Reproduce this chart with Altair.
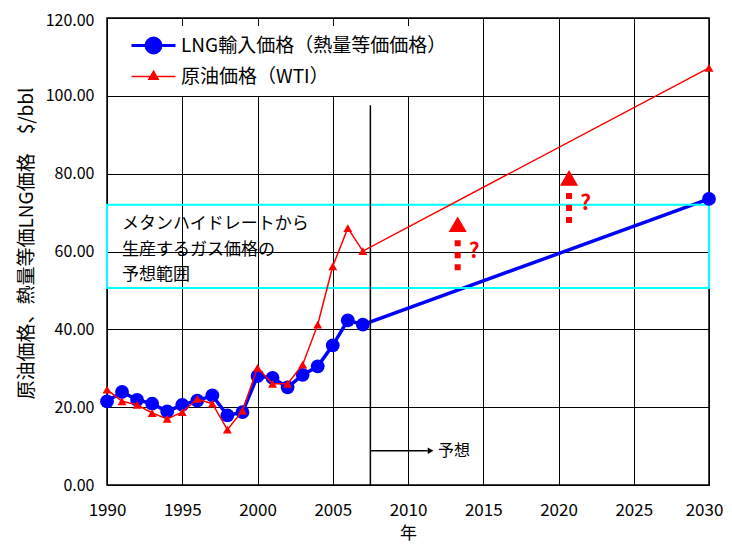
import altair as alt
import pandas as pd

# ---- data ----
years = [1990, 1991, 1992, 1993, 1994, 1995, 1996, 1997, 1998, 1999,
         2000, 2001, 2002, 2003, 2004, 2005, 2006, 2007, 2030]
lng = [21.5, 23.9, 21.9, 20.9, 18.9, 20.6, 21.7, 23.0, 17.9, 18.7,
       28.0, 27.5, 25.1, 28.3, 30.5, 35.9, 42.3, 41.2, 73.5]
wti = [24.5, 21.5, 20.6, 18.5, 17.0, 18.7, 22.1, 20.9, 14.2, 19.1,
       30.1, 26.0, 26.0, 30.9, 41.2, 56.2, 66.0, 60.1, 107.2]
series_names = ["LNG輸入価格（熱量等価価格）", "原油価格（WTI）"]
series_colors = ["#0000FF", "#FF0000"]

x_ticks = [1990, 1995, 2000, 2005, 2010, 2015, 2020, 2025, 2030]
y_ticks = [0, 20, 40, 60, 80, 100, 120]

box_x = [1990, 2030]
box_y = [50.6, 72.0]
box_lines = ["メタンハイドレートから", "生産するガス価格の", "予想範囲"]
box_line_y = [67.0, 60.4, 53.9]
box_text_x = [1991.0, 1991.0, 1991.0]

forecast_x = [2007.5]
forecast_top = [97.6]
arrow_x = [2007.5, 2011.3]
arrow_y = [8.8]
arrow_head_x = [2011.5]
forecast_label = ["予想"]
forecast_label_x = [2012.0]

up_x = [2013.3, 2020.7]
up_lo = [55.2, 67.3]
up_hi = [63.6, 75.6]
up_head = [67.0, 78.9]
q_x = [2014.4, 2021.8]
q_y = [59.8, 72.2]

FONT = "Noto Sans CJK JP"

df = pd.DataFrame({"year": years, "lng": lng, "wti": wti})
df_box = pd.DataFrame({"x1": [box_x[0]], "x2": [box_x[1]], "y1": [box_y[0]], "y2": [box_y[1]]})
df_boxtxt = pd.DataFrame({"x": box_text_x, "y": box_line_y, "t": box_lines})
df_fc = pd.DataFrame({"x": forecast_x, "y1": [0], "y2": forecast_top})
df_arrow = pd.DataFrame({"x1": [arrow_x[0]], "x2": [arrow_x[1]], "y": arrow_y})
df_head = pd.DataFrame({"x": arrow_head_x, "y": arrow_y})
df_fclab = pd.DataFrame({"x": forecast_label_x, "y": arrow_y, "t": forecast_label})
df_up = pd.DataFrame({"x": up_x, "lo": up_lo, "hi": up_hi, "head": up_head})
df_q = pd.DataFrame({"x": q_x, "y": q_y, "t": ["?", "?"]})
df_leg = pd.DataFrame({"series": series_names, "year": [0, 0], "v": [0, 0]})

xs = alt.Scale(domain=[1990, 2030], nice=False, zero=False)
ys = alt.Scale(domain=[0, 120], nice=False)

x_axis = alt.Axis(values=x_ticks, format="d", title="年", grid=True, ticks=False,
                  labelFlush=False, labelOverlap=False,
                  labelOffset={"condition": {"test": "datum.value == 2030", "value": -5}, "value": 0},
                  labelFont=FONT, labelFontSize=17, labelColor="black", labelPadding=17,
                  titleFont=FONT, titleFontSize=17, titleFontWeight="normal",
                  titleColor="black", titlePadding=7,
                  gridColor="#000000", gridWidth=1, domain=False)
y_axis = alt.Axis(values=y_ticks, format=".2f", title="原油価格、熱量等価LNG価格　$/bbl",
                  grid=True, ticks=False, labelFlush=False, labelOverlap=False,
                  labelOffset={"condition": {"test": "datum.value == 120", "value": 2}, "value": 0},
                  labelFont=FONT, labelFontSize=16, labelColor="black", labelPadding=13,
                  titleFont=FONT, titleFontSize=19, titleFontWeight="normal",
                  titleColor="black", titlePadding=9, titleY=225,
                  gridColor="#000000", gridWidth=1, domain=False)

base = alt.Chart(df)

blue_line = base.mark_line(color="#0000FF", strokeWidth=3.5).encode(
    x=alt.X("year:Q", scale=xs, axis=x_axis),
    y=alt.Y("lng:Q", scale=ys, axis=y_axis),
)
blue_pts = base.mark_point(shape="circle", filled=True, color="#0000FF", size=190, opacity=1).encode(
    x=alt.X("year:Q", scale=xs), y=alt.Y("lng:Q", scale=ys))
red_line = base.mark_line(color="#FF0000", strokeWidth=1.5).encode(
    x=alt.X("year:Q", scale=xs), y=alt.Y("wti:Q", scale=ys))
red_pts = base.mark_point(shape="triangle-up", filled=True, color="#FF0000", size=80, opacity=1).encode(
    x=alt.X("year:Q", scale=xs), y=alt.Y("wti:Q", scale=ys))

box = alt.Chart(df_box).mark_rect(fillOpacity=0, stroke="#00FFFF", strokeWidth=2).encode(
    x=alt.X("x1:Q", scale=xs), x2="x2:Q", y=alt.Y("y1:Q", scale=ys), y2="y2:Q")
box_txt = alt.Chart(df_boxtxt).mark_text(align="left", baseline="middle", font=FONT,
                                         fontSize=17, color="black").encode(
    x=alt.X("x:Q", scale=xs), y=alt.Y("y:Q", scale=ys), text="t:N")

fc_line = alt.Chart(df_fc).mark_rule(color="black", strokeWidth=1.5).encode(
    x=alt.X("x:Q", scale=xs), y=alt.Y("y1:Q", scale=ys), y2="y2:Q")
fc_arrow = alt.Chart(df_arrow).mark_rule(color="black", strokeWidth=1.5).encode(
    x=alt.X("x1:Q", scale=xs), x2="x2:Q", y=alt.Y("y:Q", scale=ys))
fc_head = alt.Chart(df_head).mark_point(shape="triangle-right", filled=True, color="black",
                                        size=45, opacity=1).encode(
    x=alt.X("x:Q", scale=xs), y=alt.Y("y:Q", scale=ys))
fc_lab = alt.Chart(df_fclab).mark_text(align="left", baseline="middle", font=FONT,
                                       fontSize=16, color="black").encode(
    x=alt.X("x:Q", scale=xs), y=alt.Y("y:Q", scale=ys), text="t:N")

up_stem = alt.Chart(df_up).mark_rule(color="#FF0000", strokeWidth=6, strokeDash=[6, 6]).encode(
    x=alt.X("x:Q", scale=xs), y=alt.Y("lo:Q", scale=ys), y2="hi:Q")
up_tri = alt.Chart(df_up).mark_point(shape="triangle-up", filled=True, color="#FF0000",
                                     size=330, opacity=1).encode(
    x=alt.X("x:Q", scale=xs), y=alt.Y("head:Q", scale=ys))
q_txt = alt.Chart(df_q).mark_text(align="center", baseline="middle", font=FONT, fontSize=21,
                                  fontWeight="bold", color="#FF0000").encode(
    x=alt.X("x:Q", scale=xs), y=alt.Y("y:Q", scale=ys), text="t:N")

# legend-only layer (no visible marks)
path_blue = "M-1,0L1,0M-0.34,0A0.34,0.34 0 1,0 0.34,0A0.34,0.34 0 1,0 -0.34,0Z"
path_red = "M-1,0L1,0M0,-0.24L0.21,0.13L-0.21,0.13Z"
leg = alt.Legend(title=None, orient="none", legendX=19, legendY=8, padding=4,
                 fillColor="white", labelFont=FONT, labelFontSize=19, labelColor="black",
                 labelLimit=500, symbolSize=1936, rowPadding=0, clipHeight=31, labelOffset=4)
legend_layer = alt.Chart(df_leg).transform_filter("datum.year > 3000").mark_point(
    filled=True, opacity=1).encode(
    x=alt.X("year:Q", scale=xs), y=alt.Y("v:Q", scale=ys),
    fill=alt.Fill("series:N", scale=alt.Scale(domain=series_names, range=series_colors), legend=leg),
    stroke=alt.Stroke("series:N", scale=alt.Scale(domain=series_names, range=series_colors), legend=leg),
    shape=alt.Shape("series:N", scale=alt.Scale(domain=series_names, range=[path_blue, path_red]), legend=leg),
    strokeWidth=alt.StrokeWidth("series:N", scale=alt.Scale(domain=series_names, range=[3, 1.5]), legend=leg),
)

chart = alt.layer(
    blue_line, box, box_txt, fc_line, fc_arrow, fc_head, fc_lab,
    blue_pts, red_line, red_pts, up_stem, up_tri, q_txt, legend_layer
).properties(
    width=602, height=467,
    autosize=alt.AutoSizeParams(type="none"),
    padding={"left": 99, "top": 10, "right": 15, "bottom": 59},
    background="white",
).configure_view(stroke="black", strokeWidth=1.5)

chart.save("out.html", embed_options={"renderer": "svg", "actions": False})
